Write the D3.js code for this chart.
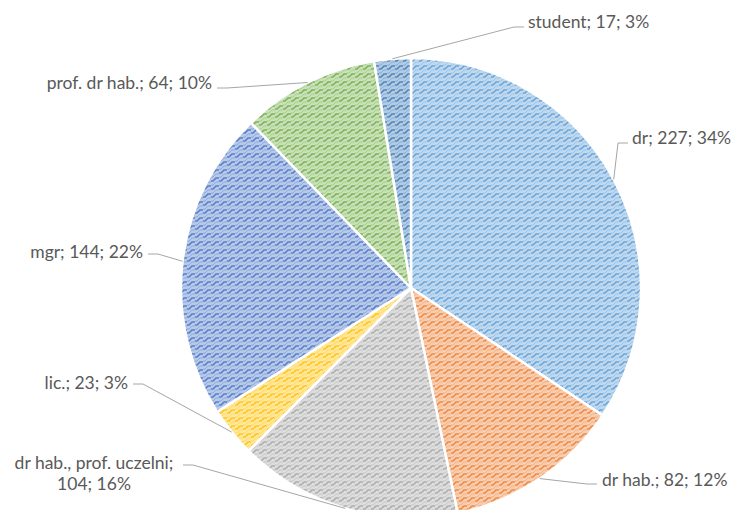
<!DOCTYPE html>
<html>
<head>
<meta charset="utf-8">
<script src="https://cdn.jsdelivr.net/npm/d3@7"></script>
<style>
    body { margin: 0; background: #fff; }
    text { font-family: "Lato", "Open Sans", sans-serif; fill: #595959; font-size: 17.5px; }
</style>
</head>
<body>
<div id="chart"></div>
<script>
// Data
const categories = ["dr", "dr hab.", "dr hab., prof. uczelni", "lic.", "mgr", "prof. dr hab.", "student"];
const counts = [227, 82, 104, 23, 144, 64, 17];
const colors = ["#5B9BD5", "#ED7D31", "#A5A5A5", "#FFC000", "#4472C4", "#70AD47", "#3A78B5"];

// Label placement (layout only)
const labelLayout = [
    { x: 632, y: 138, anchor: "start", ax: 628, ay: 143 },
    { x: 602, y: 480, anchor: "start", ax: 597, ay: 484 },
    { x: 94, y: 463, anchor: "middle", ax: 183, ay: 465, wrap: true },
    { x: 128, y: 383, anchor: "end", ax: 133, ay: 384 },
    { x: 143, y: 252, anchor: "end", ax: 148, ay: 254 },
    { x: 212, y: 83, anchor: "end", ax: 217, ay: 88 },
    { x: 528, y: 22, anchor: "start", ax: 524, ay: 27 }
];

const width = 734, height = 510;
const cx = 411, cy = 288, radius = 230;

const data = categories.map((c, i) => ({ name: c, value: counts[i], color: colors[i] }));
const total = d3.sum(counts);
const pct = d3.format(".0%");

const svg = d3.select("#chart")
    .append("svg")
    .attr("width", width)
    .attr("height", height);

// Wave patterns, one per colour
const defs = svg.append("defs");
data.forEach((d, i) => {
    const p = defs.append("pattern")
        .attr("id", "wave" + i)
        .attr("patternUnits", "userSpaceOnUse")
        .attr("width", 8)
        .attr("height", 8);
    p.append("rect")
        .attr("width", 8)
        .attr("height", 8)
        .attr("fill", d3.interpolateRgb("#fff", d.color)(0.38));
    p.append("path")
        .attr("d", "M0,5 L2,5 L5,2 L8,2")
        .attr("fill", "none")
        .attr("stroke", d3.interpolateRgb("#fff", d.color)(0.9))
        .attr("stroke-width", 1.7);
    p.append("path")
        .attr("d", "M0,1 L2,1 L5,-2 L8,-2 M0,9 L2,9 L5,6 L8,6")
        .attr("fill", "none")
        .attr("stroke", d3.interpolateRgb("#fff", d.color)(0.6))
        .attr("stroke-width", 1);
});

const g = svg.append("g")
    .attr("transform", `translate(${cx},${cy})`);

const pie = d3.pie()
    .sort(null)
    .value(d => d.value);

const arc = d3.arc()
    .innerRadius(0)
    .outerRadius(radius);

const edgeArc = d3.arc()
    .innerRadius(radius)
    .outerRadius(radius);

const arcs = pie(data);

// Slices
g.selectAll(".slice")
    .data(arcs)
    .enter()
    .append("path")
    .attr("class", "slice")
    .attr("d", arc)
    .attr("fill", (d, i) => `url(#wave${i})`)
    .attr("stroke", "#fff")
    .attr("stroke-width", 2.5);

// Leader lines
svg.selectAll(".leader")
    .data(arcs)
    .enter()
    .append("polyline")
    .attr("class", "leader")
    .attr("fill", "none")
    .attr("stroke", "#A6A6A6")
    .attr("stroke-width", 1)
    .attr("points", (d, i) => {
        const l = labelLayout[i];
        const [px, py] = edgeArc.centroid(d);
        const ex = l.anchor === "start" ? l.ax - 10 : l.ax + 10;
        return [[l.ax, l.ay], [ex, l.ay], [cx + px, cy + py]].map(p => p.join(",")).join(" ");
    });

// Labels
svg.selectAll(".label")
    .data(arcs)
    .enter()
    .append("text")
    .attr("class", "label")
    .attr("text-anchor", (d, i) => labelLayout[i].anchor)
    .each(function(d, i) {
        const l = labelLayout[i];
        const t = d3.select(this);
        const valPart = `${d.data.value}; ${pct(d.data.value / total)}`;
        if (l.wrap) {
            t.append("tspan").attr("x", l.x).attr("y", l.y).attr("dy", "0.35em").text(`${d.data.name};`);
            t.append("tspan").attr("x", l.x).attr("y", l.y + 21).attr("dy", "0.35em").text(valPart);
        } else {
            t.append("tspan").attr("x", l.x).attr("y", l.y).attr("dy", "0.35em").text(`${d.data.name}; ${valPart}`);
        }
    });
</script>
</body>
</html>
